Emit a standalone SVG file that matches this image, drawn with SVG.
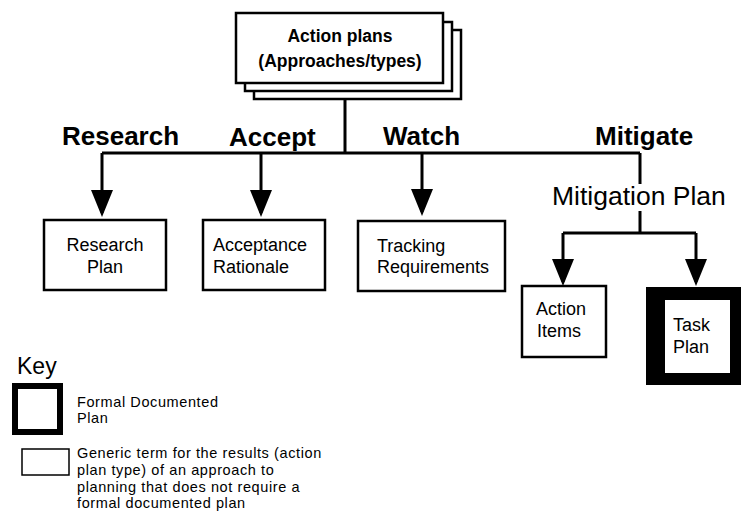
<svg xmlns="http://www.w3.org/2000/svg" width="741" height="512" viewBox="0 0 741 512">
  <defs>
    <style>
      .box { fill: #fff; stroke: #000; stroke-width: 2.5; }
      .thin { fill: #fff; stroke: #000; stroke-width: 1.5; }
      .wire { fill: none; stroke: #000; stroke-width: 3; }
      .head { font-family: "Liberation Sans", Arial, sans-serif; font-weight: bold; font-size: 26px; fill: #000; }
      .lbl { font-family: "Liberation Sans", Arial, sans-serif; font-size: 18px; fill: #000; }
      .top { font-family: "Liberation Sans", Arial, sans-serif; font-weight: bold; font-size: 17.5px; fill: #000; text-anchor: middle; }
      .sub { font-family: "Liberation Sans", Arial, sans-serif; font-size: 26.5px; fill: #000; }
      .key { font-family: "Liberation Sans", Arial, sans-serif; font-size: 14.5px; letter-spacing: 0.6px; fill: #000; }
    </style>
    <marker id="arrow" markerUnits="userSpaceOnUse" markerWidth="27" markerHeight="22" viewBox="0 0 27 22" refX="23" refY="11" orient="auto">
      <path d="M0,0 L27,11 L0,22 z" fill="#000"/>
    </marker>
  </defs>

  <rect width="741" height="512" fill="#fff"/>

  <!-- stacked root node -->
  <g id="action-plans">
    <rect class="box" x="254" y="30" width="207" height="69"/>
    <rect class="box" x="245" y="22" width="207" height="69"/>
    <rect class="box" x="236" y="13" width="207" height="70"/>
    <text class="top" x="340" y="42">Action plans</text>
    <text class="top" x="340" y="67">(Approaches/types)</text>
  </g>

  <!-- connectors -->
  <g id="connectors">
    <path class="wire" d="M345,99 V153 M102,153 H640"/>
    <path class="wire" d="M102,153 V213" marker-end="url(#arrow)"/>
    <path class="wire" d="M261,153 V213" marker-end="url(#arrow)"/>
    <path class="wire" d="M422,153 V212" marker-end="url(#arrow)"/>
    <path class="wire" d="M640,153 V184 M640,211 V233 M563,233 H696"/>
    <path class="wire" d="M563,233 V282" marker-end="url(#arrow)"/>
    <path class="wire" d="M696,233 V282" marker-end="url(#arrow)"/>
  </g>

  <!-- approach headings -->
  <g id="headings">
    <text class="head" x="62" y="145">Research</text>
    <text class="head" x="229" y="146">Accept</text>
    <text class="head" x="383" y="145">Watch</text>
    <text class="head" x="595" y="145">Mitigate</text>
    <text class="sub" x="552" y="205">Mitigation Plan</text>
  </g>

  <g id="research-plan">
    <rect class="box" x="44" y="220" width="122" height="70"/>
    <text class="lbl" x="105" y="251" text-anchor="middle">Research</text>
    <text class="lbl" x="105" y="273" text-anchor="middle">Plan</text>
  </g>

  <g id="acceptance-rationale">
    <rect class="box" x="203" y="220" width="122" height="70"/>
    <text class="lbl" x="213" y="251">Acceptance</text>
    <text class="lbl" x="213" y="273">Rationale</text>
  </g>

  <g id="tracking-requirements">
    <rect class="box" x="358" y="221" width="147" height="70"/>
    <text class="lbl" x="377" y="252">Tracking</text>
    <text class="lbl" x="377" y="273">Requirements</text>
  </g>

  <g id="action-items">
    <rect class="box" x="522" y="286" width="84" height="71"/>
    <text class="lbl" x="536" y="315">Action</text>
    <text class="lbl" x="537" y="337">Items</text>
  </g>

  <!-- formal plan: heavy frame -->
  <g id="task-plan">
    <rect x="646" y="287" width="95" height="98" fill="#000"/>
    <rect x="665" y="300" width="65" height="73" fill="#fff"/>
    <text class="lbl" x="673" y="331">Task</text>
    <text class="lbl" x="673" y="353">Plan</text>
  </g>

  <!-- legend -->
  <g id="key">
    <text x="17" y="374" font-family="Liberation Sans, Arial, sans-serif" font-size="23" fill="#000">Key</text>
    <rect x="15" y="386" width="45" height="46" fill="#fff" stroke="#000" stroke-width="6"/>
    <text class="key" x="77" y="407">Formal Documented</text>
    <text class="key" x="77" y="423">Plan</text>
    <rect class="thin" x="22" y="449" width="47" height="26"/>
    <text class="key" x="77" y="458">Generic term for the results (action</text>
    <text class="key" x="77" y="475">plan type) of an approach to</text>
    <text class="key" x="77" y="492">planning that does not require a</text>
    <text class="key" x="77" y="508">formal documented plan</text>
  </g>
</svg>
